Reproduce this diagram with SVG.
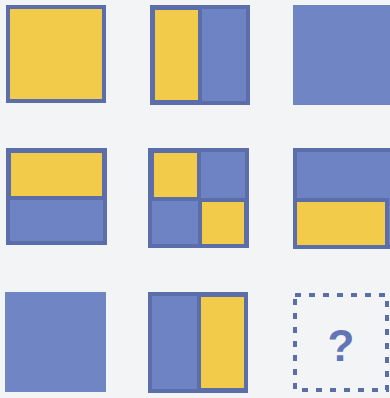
<svg xmlns="http://www.w3.org/2000/svg" width="390" height="398" viewBox="0 0 390 398">
<style>
.o{fill:#6e83c3;stroke:#5b6ea9;stroke-width:4}
.y{fill:#f3cb4b;stroke:#5b6ea9;stroke-width:4}
.b{fill:#7086c4}
.q{font-family:"Liberation Sans",Arial,sans-serif;font-weight:bold;font-size:44px;fill:#6276b6;text-anchor:middle}
</style>
<rect width="390" height="398" fill="#f3f4f6"/>
<g id="s1"><rect class="y" x="8" y="7" width="96" height="94"/></g>
<g id="s2"><rect class="o" x="152" y="7" width="96" height="96"/><rect class="y" x="153" y="8" width="47" height="94"/></g>
<g id="s3"><rect class="b" x="293" y="5" width="97" height="100"/></g>
<g id="s4"><rect class="o" x="8" y="150" width="97" height="93"/><rect class="y" x="9" y="151" width="95" height="47"/></g>
<g id="s5"><rect class="o" x="150" y="150" width="97" height="96"/><rect class="y" x="152" y="151" width="47" height="48"/><rect class="y" x="200" y="200" width="46" height="46"/></g>
<g id="s6"><rect class="o" x="295" y="150" width="97" height="97"/><rect class="y" x="295" y="200" width="92" height="47"/></g>
<g id="s7"><rect class="b" x="5" y="292" width="101" height="100"/></g>
<g id="s8"><rect class="o" x="150" y="294" width="96" height="97"/><rect class="y" x="199" y="295" width="47" height="95"/></g>
<g id="s9"><rect x="295" y="295" width="92" height="95" fill="none" stroke="#5b6ea9" stroke-width="4" stroke-dasharray="6 8"/><text class="q" x="341" y="361">?</text></g>
</svg>
